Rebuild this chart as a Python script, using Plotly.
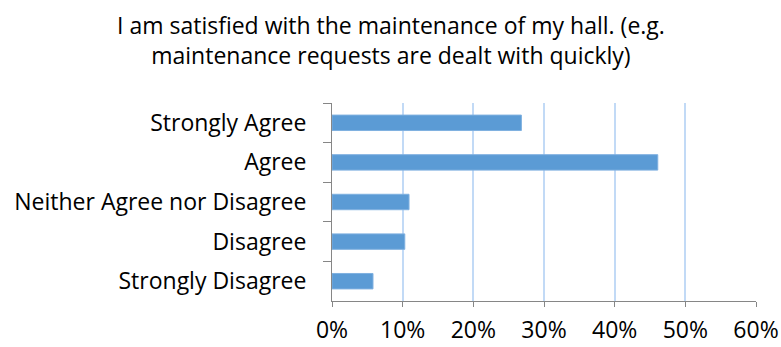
import plotly.graph_objects as go

categories = ["Strongly Agree", "Agree", "Neither Agree nor Disagree", "Disagree", "Strongly Disagree"]
shares = [0.268, 0.461, 0.109, 0.103, 0.058]
x_ticks = [0, 0.1, 0.2, 0.3, 0.4, 0.5, 0.6]
x_tick_labels = ["0%", "10%", "20%", "30%", "40%", "50%", "60%"]
title_text = "I am satisfied with the maintenance of my hall. (e.g.<br>maintenance requests are dealt with quickly)"

font_family = "'Open Sans', Lato, sans-serif"

# plot area: x 332..756, y 103..301 in a 781x347 page
left, right, top, bottom = 332, 25, 103, 46
plot_w = 781 - left - right
plot_h = 347 - top - bottom

fig = go.Figure(
    go.Bar(
        x=shares,
        y=categories,
        orientation="h",
        marker=dict(color="#5B9BD5", line=dict(color="#7FB0E0", width=1)),
    )
)

fig.update_layout(
    width=781,
    height=347,
    margin=dict(l=left, r=right, t=top, b=bottom, autoexpand=False),
    paper_bgcolor="white",
    plot_bgcolor="white",
    bargap=0.61,
    showlegend=False,
    font=dict(family=font_family, color="#000000", size=23),
    annotations=[
        dict(
            text=title_text,
            xref="paper",
            yref="paper",
            x=(390.5 - left) / plot_w,
            y=(347 - bottom - 7) / plot_h,
            xanchor="center",
            yanchor="top",
            align="center",
            showarrow=False,
            font=dict(family=font_family, size=23, color="#000000"),
        )
    ],
)

fig.update_xaxes(
    range=[0, 0.6],
    tickvals=x_ticks,
    ticktext=x_tick_labels,
    showgrid=True,
    gridcolor="#C2DAF6",
    gridwidth=1.5,
    zeroline=False,
    showline=True,
    linecolor="#868686",
    linewidth=1,
    ticks="outside",
    ticklen=5,
    tickcolor="#868686",
    tickfont=dict(size=23),
    ticklabelstandoff=3,
    automargin=False,
)

fig.update_yaxes(
    autorange="reversed",
    showgrid=False,
    zeroline=False,
    showline=True,
    linecolor="#868686",
    linewidth=1,
    ticks="outside",
    tickson="boundaries",
    ticklen=8,
    tickcolor="#868686",
    tickfont=dict(size=23),
    ticklabelstandoff=20,
    automargin=False,
)

fig.write_html("out.html")
